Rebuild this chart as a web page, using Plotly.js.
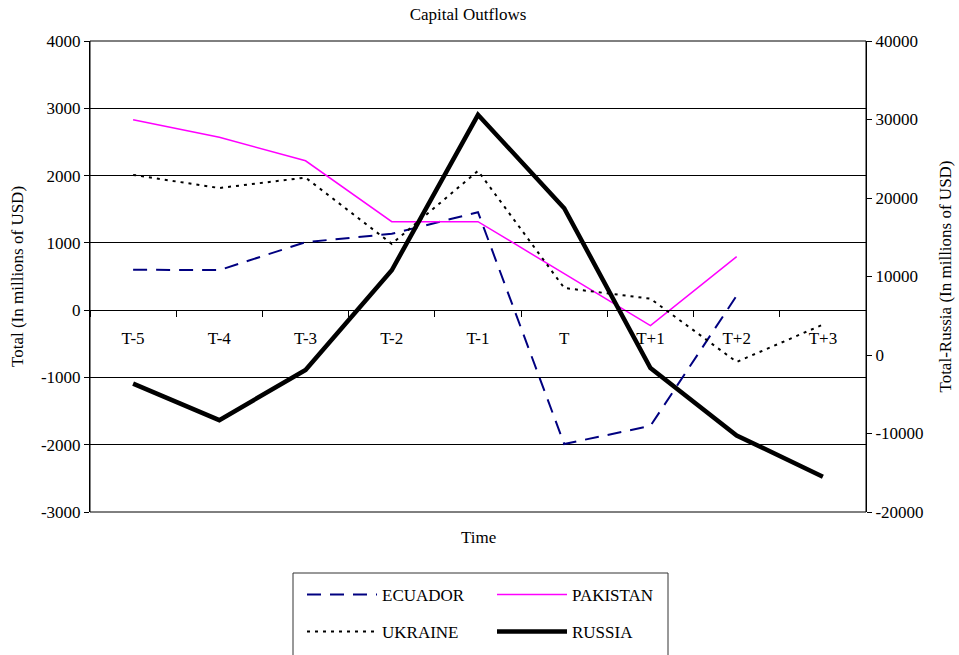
<!DOCTYPE html>
<html>
<head>
<meta charset="utf-8">
<script src="https://cdn.plot.ly/plotly-3.0.1.min.js"></script>
<style>html,body{margin:0;padding:0;background:#fff;}#chart{width:959px;height:655px;}</style>
</head>
<body>
<div id="chart"></div>
<script>
var categories = ['T-5','T-4','T-3','T-2','T-1','T','T+1','T+2','T+3'];
var ecuador  = [600, 595, 1010, 1135, 1455, -1990, -1720, 215, null];
var pakistan = [2830, 2570, 2220, 1315, 1315, 545, -230, 795, null];
var ukraine  = [2010, 1815, 1970, 985, 2070, 330, 170, -770, -215];
var russia   = [-3650, -8300, -1900, 10800, 30600, 18700, -1650, -10250, -15500];
var leftTicks  = [-3000,-2000,-1000,0,1000,2000,3000,4000];
var rightTicks = [-20000,-10000,0,10000,20000,30000,40000];

var FONT = 'Liberation Serif, Times New Roman, serif';

var traces = [
  {x: categories, y: ecuador, name: 'ECUADOR', type: 'scatter', mode: 'lines',
   line: {color: '#000080', width: 2, dash: '14px,9px'}, legend: 'legend', connectgaps: false},
  {x: categories, y: pakistan, name: 'PAKISTAN', type: 'scatter', mode: 'lines',
   line: {color: '#FF00FF', width: 1.5}, legend: 'legend2'},
  {x: categories, y: ukraine, name: 'UKRAINE', type: 'scatter', mode: 'lines',
   line: {color: '#000000', width: 2, dash: '3px,5px'}, legend: 'legend3'},
  {x: categories, y: russia, name: 'RUSSIA', type: 'scatter', mode: 'lines', yaxis: 'y2',
   line: {color: '#000000', width: 4.5}, legend: 'legend4'}
];

function P(py){ return (512 - py) / 471; }
function PX(px){ return (px - 90) / 776; }

function leg(xpx, ypx){
  return {x: PX(xpx), y: P(ypx), xanchor: 'left', yanchor: 'middle',
    bgcolor: 'rgba(0,0,0,0)', borderwidth: 0, itemwidth: 70,
    font: {family: FONT, size: 17, color: '#000'}};
}

var layout = {
  width: 959, height: 655, autosize: false,
  margin: {l: 90, r: 93, t: 41, b: 143, pad: 0, autoexpand: false},
  paper_bgcolor: '#fff', plot_bgcolor: '#fff',
  font: {family: FONT, size: 17, color: '#000'},
  showlegend: true,
  title: {text: 'Capital Outflows', x: 468/959, xanchor: 'center', y: 1 - 14/655, yanchor: 'middle',
    font: {family: FONT, size: 17, color: '#000'}},
  xaxis: {type: 'category', range: [-0.5, 8.5], anchor: 'free', position: P(310),
    showline: true, linecolor: '#000', linewidth: 1,
    ticks: 'outside', tickson: 'boundaries', ticklen: 6, tickcolor: '#000',
    ticklabelstandoff: 13,
    showgrid: false, zeroline: false, tickfont: {family: FONT, size: 17, color: '#000'}},
  yaxis: {range: [-3000, 4000], tickvals: leftTicks, ticktext: leftTicks.map(String),
    showgrid: true, gridcolor: '#000', gridwidth: 1,
    zeroline: true, zerolinecolor: '#000', zerolinewidth: 1,
    showline: true, linecolor: '#000', linewidth: 1, ticks: 'outside', ticklen: 5, tickcolor: '#000',
    tickfont: {family: FONT, size: 17, color: '#000'},
    title: {text: 'Total (In millions of USD)', standoff: 12, font: {family: FONT, size: 17, color: '#000'}}},
  yaxis2: {range: [-20000, 40000], tickvals: rightTicks, ticktext: rightTicks.map(String),
    overlaying: 'y', side: 'right', anchor: 'x',
    showgrid: false, zeroline: false, showline: true, linecolor: '#000', linewidth: 1,
    ticks: 'outside', ticklen: 5, tickcolor: '#000',
    tickfont: {family: FONT, size: 17, color: '#000'},
    title: {text: 'Total-Russia (In millions of USD)', standoff: 16, font: {family: FONT, size: 17, color: '#000'}}},
  legend: leg(302, 595),
  legend2: leg(492, 595),
  legend3: leg(302, 632),
  legend4: leg(492, 632),
  shapes: [
    {type: 'rect', xref: 'paper', yref: 'paper', x0: 0, x1: 1, y0: 0, y1: 1,
     line: {color: '#000', width: 1}, layer: 'below'},
    {type: 'rect', xref: 'paper', yref: 'paper', x0: PX(293), x1: PX(668), y0: P(573), y1: P(660),
     line: {color: '#333', width: 1}, layer: 'below'}
  ],
  annotations: [
    {text: 'Time', xref: 'paper', yref: 'paper', x: 0.5, y: P(537), xanchor: 'center', yanchor: 'middle',
     showarrow: false, font: {family: FONT, size: 17, color: '#000'}}
  ]
};

Plotly.newPlot('chart', traces, layout, {displayModeBar: false, staticPlot: true});
</script>
</body>
</html>
